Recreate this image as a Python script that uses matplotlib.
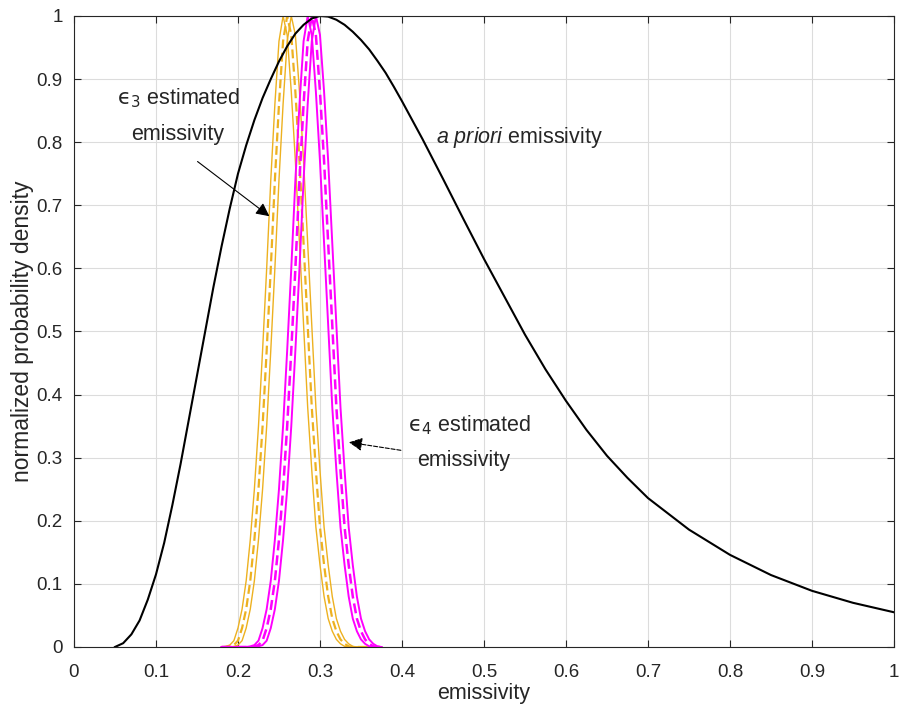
import matplotlib.pyplot as plt
import numpy as np

plt.rcParams['font.family'] = ['Liberation Sans', 'DejaVu Sans']
plt.rcParams['mathtext.fontset'] = 'custom'
plt.rcParams['mathtext.rm'] = 'DejaVu Sans'
plt.rcParams['mathtext.it'] = 'Liberation Sans:italic'

# a priori emissivity (black)
prior_x = [0.05, 0.06, 0.07, 0.08, 0.09, 0.10, 0.11, 0.12, 0.13, 0.14, 0.15, 0.16,
           0.17, 0.18, 0.19, 0.20, 0.21, 0.22, 0.23, 0.24, 0.25, 0.26, 0.27, 0.28,
           0.29, 0.30, 0.31, 0.32, 0.33, 0.34, 0.35, 0.36, 0.37, 0.38, 0.39, 0.40,
           0.425, 0.45, 0.475, 0.50, 0.525, 0.55, 0.575, 0.60, 0.625, 0.65, 0.675,
           0.70, 0.75, 0.80, 0.85, 0.90, 0.95, 1.00]
prior_y = [0.0, 0.006, 0.02, 0.042, 0.075, 0.115, 0.165, 0.225, 0.29, 0.36, 0.43, 0.50,
           0.57, 0.635, 0.695, 0.75, 0.795, 0.835, 0.87, 0.90, 0.928, 0.952, 0.972, 0.986,
           0.996, 1.0, 0.999, 0.994, 0.986, 0.975, 0.962, 0.947, 0.929, 0.91, 0.888, 0.865,
           0.805, 0.742, 0.678, 0.615, 0.555, 0.495, 0.44, 0.39, 0.344, 0.303, 0.268,
           0.236, 0.186, 0.146, 0.114, 0.089, 0.07, 0.055]

# estimated emissivity curves share one x grid (0.18 ... 0.375)
est_x = [0.180, 0.185, 0.190, 0.195, 0.200, 0.205, 0.210, 0.215, 0.220, 0.225,
         0.230, 0.235, 0.240, 0.245, 0.250, 0.255, 0.260, 0.265, 0.270, 0.275,
         0.280, 0.285, 0.290, 0.295, 0.300, 0.305, 0.310, 0.315, 0.320, 0.325,
         0.330, 0.335, 0.340, 0.345, 0.350, 0.355, 0.360, 0.365, 0.370, 0.375]

# eps3 (orange)
e3_a = [0.0, 0.001, 0.003, 0.01, 0.03, 0.06, 0.105, 0.17, 0.25, 0.35,
        0.47, 0.60, 0.74, 0.86, 0.96, 1.0, 0.97, 0.88, 0.77, 0.64,
        0.51, 0.38, 0.28, 0.19, 0.13, 0.08, 0.045, 0.025, 0.012, 0.005,
        0.001, 0, 0, 0, 0, 0, 0, 0, 0, 0]
e3_b = [0.0, 0.0, 0.001, 0.003, 0.01, 0.03, 0.06, 0.105, 0.17, 0.25,
        0.35, 0.47, 0.60, 0.74, 0.86, 0.96, 1.0, 0.97, 0.88, 0.77,
        0.64, 0.51, 0.38, 0.28, 0.19, 0.13, 0.08, 0.045, 0.025, 0.012,
        0.005, 0.001, 0, 0, 0, 0, 0, 0, 0, 0]
e3_c = [0.0, 0.0, 0.0, 0.001, 0.003, 0.01, 0.03, 0.06, 0.105, 0.17,
        0.25, 0.35, 0.47, 0.60, 0.74, 0.86, 0.96, 1.0, 0.97, 0.88,
        0.77, 0.64, 0.51, 0.38, 0.28, 0.19, 0.13, 0.08, 0.045, 0.025,
        0.012, 0.005, 0.001, 0, 0, 0, 0, 0, 0, 0]

# eps4 (magenta)
e4_a = [0, 0, 0, 0, 0, 0, 0, 0.001, 0.003, 0.01,
        0.03, 0.06, 0.105, 0.17, 0.25, 0.35, 0.47, 0.60, 0.74, 0.86,
        0.96, 1.0, 0.97, 0.88, 0.77, 0.64, 0.51, 0.38, 0.28, 0.19,
        0.13, 0.08, 0.045, 0.025, 0.012, 0.005, 0.001, 0, 0, 0]
e4_b = [0, 0, 0, 0, 0, 0, 0, 0, 0.001, 0.003,
        0.01, 0.03, 0.06, 0.105, 0.17, 0.25, 0.35, 0.47, 0.60, 0.74,
        0.86, 0.96, 1.0, 0.97, 0.88, 0.77, 0.64, 0.51, 0.38, 0.28,
        0.19, 0.13, 0.08, 0.045, 0.025, 0.012, 0.005, 0.001, 0, 0]
e4_c = [0, 0, 0, 0, 0, 0, 0, 0, 0, 0.001,
        0.003, 0.01, 0.03, 0.06, 0.105, 0.17, 0.25, 0.35, 0.47, 0.60,
        0.74, 0.86, 0.96, 1.0, 0.97, 0.88, 0.77, 0.64, 0.51, 0.38,
        0.28, 0.19, 0.13, 0.08, 0.045, 0.025, 0.012, 0.005, 0.001, 0]

ticks = [0, 0.1, 0.2, 0.3, 0.4, 0.5, 0.6, 0.7, 0.8, 0.9, 1]
tick_labels = ["0", "0.1", "0.2", "0.3", "0.4", "0.5", "0.6", "0.7", "0.8", "0.9", "1"]

orange = "#EDB120"
magenta = "#FF00FF"
dark = "#262626"

fig = plt.figure(figsize=(9, 7.13), dpi=100)
ax = fig.add_axes([0.0822, 0.0926, 0.9111, 0.885])

ax.plot(est_x, e3_a, color=orange, lw=1.0)
ax.plot(est_x, e3_b, color=orange, lw=1.6, ls=(0, (4, 2)))
ax.plot(est_x, e3_c, color=orange, lw=1.0)
ax.plot(est_x, e4_a, color=magenta, lw=1.4)
ax.plot(est_x, e4_b, color=magenta, lw=1.8, ls=(0, (4, 2)))
ax.plot(est_x, e4_c, color=magenta, lw=1.4)
ax.plot(prior_x, prior_y, color="black", lw=1.5)

ax.set_xlim(0, 1)
ax.set_ylim(0, 1)
ax.set_xticks(ticks)
ax.set_xticklabels(tick_labels)
ax.set_yticks(ticks)
ax.set_yticklabels(tick_labels)
ax.grid(True, color="#dcdcdc", lw=0.8)
ax.set_axisbelow(True)
ax.tick_params(direction="in", top=True, right=True, length=5, width=0.8,
               colors=dark, labelsize=13.5, labelcolor=dark)
ax.tick_params(axis="x", pad=12)
ax.tick_params(axis="y", pad=8)
for s in ax.spines.values():
    s.set_color(dark)
    s.set_linewidth(0.8)

ax.set_xlabel("emissivity", fontsize=15.5, color=dark, labelpad=2)
ax.set_ylabel("normalized probability density", fontsize=16.5, color=dark, labelpad=2)

ax.text(0.053, 0.87, "$\\mathrm{ϵ}_3$ estimated", fontsize=15.5, color=dark, va="center")
ax.text(0.07, 0.812, "emissivity", fontsize=15.5, color=dark, va="center")
ax.annotate("", xy=(0.241, 0.68), xytext=(0.148, 0.772),
            arrowprops=dict(arrowstyle="-|>", color="black", lw=0.8, mutation_scale=20))

ax.text(0.407, 0.352, "$\\mathrm{ϵ}_4$ estimated", fontsize=15.5, color=dark, va="center")
ax.text(0.419, 0.295, "emissivity", fontsize=15.5, color=dark, va="center")
ax.annotate("", xy=(0.332, 0.325), xytext=(0.402, 0.311),
            arrowprops=dict(arrowstyle="-|>", color="black", lw=0.8, ls="--",
                            mutation_scale=20))

ax.text(0.441, 0.808, r"$a$ $priori$ emissivity", fontsize=15.5, color=dark, va="center")

fig.savefig("out.png", dpi=100)
